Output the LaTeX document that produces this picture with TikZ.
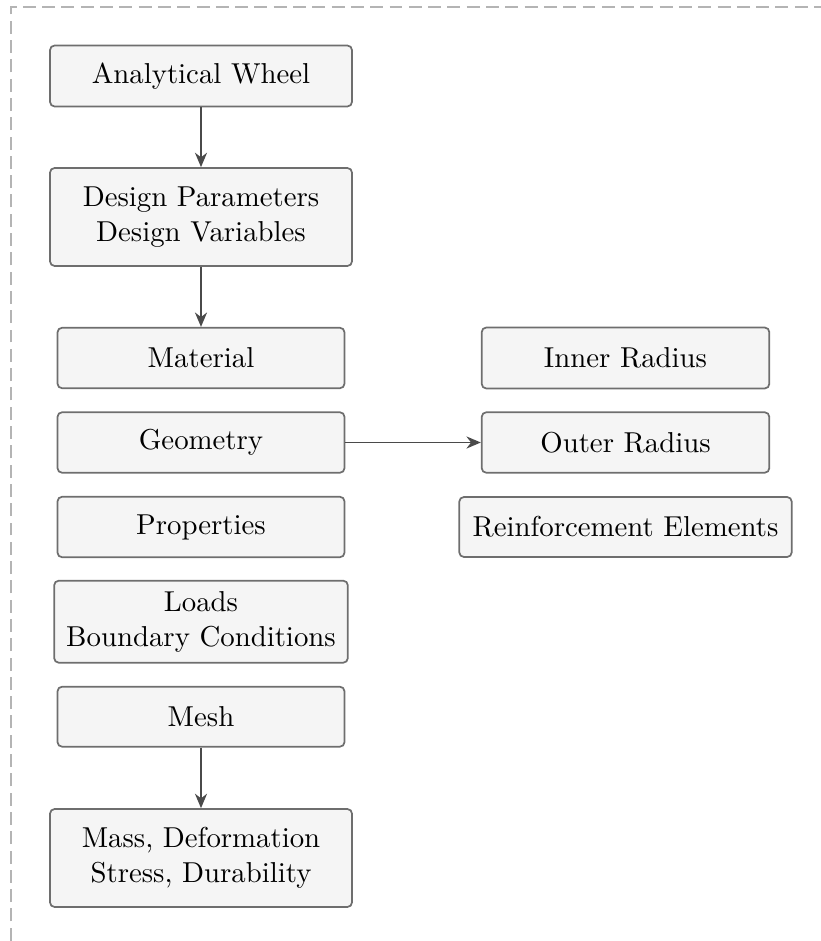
\documentclass[tikz,border=0pt]{standalone}
\usetikzlibrary{arrows.meta}
\definecolor{boxfill}{HTML}{F5F5F5}
\definecolor{boxline}{HTML}{6E6E6E}
\definecolor{arrowcol}{HTML}{4A4A4A}
\definecolor{framecol}{HTML}{B4B4B4}
\begin{document}
\begin{tikzpicture}[x=0.3472pt, y=-0.3472pt,
  stepbox/.style={draw=boxline, fill=boxfill, line width=0.6pt, rounded corners=1.6pt,
    align=center, inner sep=2pt, font=\fontsize{10}{12}\selectfont},
  flow/.style={draw=arrowcol, line width=0.6pt,
    -{Stealth[length=5pt,width=4.2pt,inset=1.6pt]}}]
  \useasboundingbox (0,0) rectangle (820,941);
  % outer dashed frame
  \draw[framecol, line width=0.5pt, dash pattern=on 4.5pt off 2.2pt] (11,960) -- (11,7) -- (840,7);

  % left column
  \node[stepbox, minimum width=302*0.3472pt, minimum height=61*0.3472pt] (aw) at (201,76) {Analytical Wheel};
  \node[stepbox, minimum width=302*0.3472pt, minimum height=98*0.3472pt] (dp) at (201,217) {Design Parameters\\Design Variables};
  \node[stepbox, minimum width=287*0.3472pt, minimum height=60.5*0.3472pt] (mat) at (201,358) {Material};
  \node[stepbox, minimum width=287*0.3472pt, minimum height=60.5*0.3472pt] (geo) at (201,442.5) {Geometry};
  \node[stepbox, minimum width=287*0.3472pt, minimum height=60.5*0.3472pt] (prop) at (201,527) {Properties};
  \node[stepbox, minimum width=293.7*0.3472pt, minimum height=82*0.3472pt] (loads) at (201,621.7) {Loads\\Boundary Conditions};
  \node[stepbox, minimum width=287*0.3472pt, minimum height=60*0.3472pt] (mesh) at (201,716.7) {Mesh};
  \node[stepbox, minimum width=302*0.3472pt, minimum height=98*0.3472pt] (res) at (201,858) {Mass, Deformation\\Stress, Durability};

  % right column
  \node[stepbox, minimum width=287.6*0.3472pt, minimum height=61*0.3472pt] (inner) at (625.5,358) {Inner Radius};
  \node[stepbox, minimum width=287.6*0.3472pt, minimum height=60.5*0.3472pt] (outer) at (625.5,442.5) {Outer Radius};
  \node[stepbox, minimum width=332.4*0.3472pt, minimum height=60*0.3472pt] (reinf) at (625.5,527) {Reinforcement Elements};

  % connectors
  \draw[flow] (aw) -- (dp);
  \draw[flow] (dp) -- (mat);
  \draw[flow] (mesh) -- (res);
  \draw[flow] (geo) -- (outer);
\end{tikzpicture}
\end{document}
